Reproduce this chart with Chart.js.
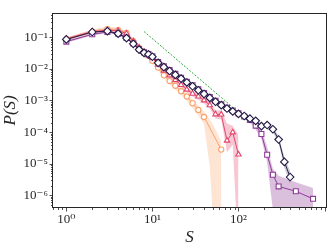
<!DOCTYPE html>
<html>
<head>
<meta charset="utf-8">
<script src="https://cdn.jsdelivr.net/npm/chart.js@4/dist/chart.umd.min.js"></script>
<style>
  html, body { margin: 0; padding: 0; background: #fff; }
  canvas { display: block; }
</style>
</head>
<body>
<canvas id="chart" width="332" height="248"></canvas>
<script>
// axis decades (labelled ticks)
const xDecades = [1, 10, 100, 1000];
const yDecades = [1e-6, 1e-5, 1e-4, 1e-3, 1e-2, 1e-1];

// diamonds (dark)
const diaS = [1, 2, 3, 4, 5, 6, 7, 8, 9, 10, 11.66, 13.59, 15.85, 18.48, 21.54, 25.12, 29.29, 34.15, 39.81, 46.42,
  54.12, 63.1, 73.56, 85.77, 100, 116.6, 135.9, 158.5, 184.8, 215.4, 251.2, 292.9, 341.5, 398.1];
const diaP = [0.0845, 0.145, 0.155, 0.1286, 0.0932, 0.0613, 0.0403, 0.0317, 0.0284, 0.024, 0.0154, 0.0113, 0.0085, 0.0064,
  0.0049, 0.0037, 0.0028, 0.0021, 0.0016, 0.0012, 0.00091, 0.00071, 0.000555, 0.00045, 0.000378, 0.000322, 0.000266,
  0.000227, 0.000155, 0.000167, 0.000123, 5.83e-5, 1.14e-5, 3.81e-6];
const diaLo = [0.080, 0.138, 0.148, 0.122, 0.088, 0.058, 0.038, 0.030, 0.027, 0.0227, 0.0146, 0.0106, 0.0080, 0.0060,
  0.0046, 0.0034, 0.0026, 0.00197, 0.00149, 0.00112, 0.00084, 0.00066, 0.00051, 0.00041, 0.00034, 0.00029, 0.00024,
  0.0002, 0.00013, 0.00014, 0.0001, 4.5e-5, 7.5e-6, 2.2e-6];
const diaHi = [0.089, 0.152, 0.163, 0.135, 0.098, 0.065, 0.0425, 0.0335, 0.030, 0.0253, 0.0163, 0.0119, 0.0090, 0.0068,
  0.0051, 0.0039, 0.0029, 0.00223, 0.00169, 0.00128, 0.00097, 0.00076, 0.0006, 0.00049, 0.00041, 0.00035, 0.00029,
  0.00026, 0.00018, 0.00019, 0.000145, 7.5e-5, 1.6e-5, 6e-6];

// squares (purple)
const sqS = [1, 2, 3, 4, 5, 6, 7, 8, 9, 10, 11.66, 13.59, 15.85, 18.48, 21.54, 25.12, 29.29, 34.15, 39.81, 46.42,
  54.12, 63.1, 73.56, 85.77, 100, 116.6, 135.9, 158.5, 184.8, 215.4, 251.2, 292.9, 464.2, 735.6];
const sqP = [0.072, 0.123, 0.145, 0.129, 0.094, 0.063, 0.042, 0.033, 0.029, 0.0248, 0.0165, 0.0121, 0.0091, 0.0069,
  0.0052, 0.0039, 0.0030, 0.00225, 0.0017, 0.00128, 0.00097, 0.00076, 0.00059, 0.00048, 0.00039, 0.00031, 0.00024,
  1.6e-4, 8.7e-5, 1.93e-5, 4.5e-6, 1.92e-6, 1.35e-6, 7.8e-7];
const sqLo = [0.066, 0.113, 0.134, 0.119, 0.087, 0.058, 0.039, 0.030, 0.0265, 0.0226, 0.015, 0.011, 0.0082, 0.0062,
  0.0047, 0.0035, 0.0027, 0.002, 0.00152, 0.00114, 0.00086, 0.00067, 0.00052, 0.00042, 0.00034, 0.00026, 0.0002,
  0.00012, 6e-5, 1.1e-5, 3.5e-7, 1e-8, 1e-8, 1e-8];
const sqHi = [0.078, 0.133, 0.157, 0.14, 0.102, 0.068, 0.046, 0.036, 0.0318, 0.0272, 0.0182, 0.0134, 0.0101, 0.0077,
  0.0058, 0.0044, 0.0034, 0.0025, 0.0019, 0.00144, 0.0011, 0.00086, 0.00067, 0.00055, 0.00045, 0.00036, 0.00029,
  0.0002, 0.000125, 3.4e-5, 7e-6, 4.2e-6, 2.6e-6, 1.7e-6];

// triangles (red)
const triS = [1, 2, 3, 4, 5, 6, 7, 8, 9, 10, 11.66, 13.59, 15.85, 18.48, 21.54, 25.12, 29.29, 34.15, 39.81, 46.42,
  54.12, 63.1, 73.56, 85.77, 100];
const triP = [0.088, 0.15, 0.165, 0.16, 0.13, 0.075, 0.047, 0.034, 0.027, 0.0219, 0.0134, 0.0088, 0.0062, 0.0044,
  0.0031, 0.0022, 0.00164, 0.00133, 0.00101, 0.00071, 0.000365, 0.00036, 5.4e-5, 9.8e-5, 1.96e-5];
const triLo = [0.08, 0.135, 0.148, 0.14, 0.11, 0.063, 0.04, 0.029, 0.023, 0.018, 0.011, 0.0072, 0.0051, 0.0036,
  0.0025, 0.0018, 0.00132, 0.00106, 0.0008, 0.00055, 0.00027, 0.00025, 2.3e-5, 4e-5, 1e-8];
const triHi = [0.097, 0.168, 0.19, 0.185, 0.15, 0.088, 0.055, 0.04, 0.032, 0.026, 0.016, 0.0106, 0.0075, 0.0053,
  0.0038, 0.0027, 0.002, 0.00163, 0.00125, 0.0009, 0.00049, 0.00048, 0.000188, 0.00016, 8e-5];

// circles (orange)
const circS = [1, 2, 3, 4, 5, 6, 7, 8, 9, 10, 11.66, 13.59, 15.85, 18.48, 21.54, 25.12, 29.29, 34.15, 39.81, 63.1];
const circP = [0.088, 0.15, 0.18, 0.165, 0.135, 0.075, 0.046, 0.033, 0.026, 0.0178, 0.0109, 0.0062, 0.0041, 0.0029,
  0.00196, 0.00133, 0.00082, 0.0005, 0.0003, 2.8e-5];
const circBandS = [1, 2, 3, 4, 5, 6, 7, 8, 9, 10, 11.66, 13.59, 15.85, 18.48, 21.54, 25.12, 29.29, 34.15, 39.81, 46.42,
  54.12, 63.1];
const circLo = [0.078, 0.13, 0.155, 0.14, 0.11, 0.062, 0.038, 0.027, 0.021, 0.014, 0.0086, 0.0049, 0.0032, 0.0022,
  0.0015, 0.00098, 0.00058, 0.00033, 0.00018, 8e-6, 1e-8, 1e-8];
const circHi = [0.098, 0.175, 0.215, 0.2, 0.16, 0.09, 0.055, 0.04, 0.032, 0.022, 0.0135, 0.0078, 0.0052, 0.0037,
  0.0025, 0.0017, 0.0011, 0.00068, 0.00045, 0.00025, 0.00012, 5e-5];

// reference slope line
const guideS = [8, 85];
const guideP = [0.15, 6.2e-4];

const FONT = "'Liberation Serif', 'DejaVu Serif', serif";
const INK = '#262626';

const pts = (S, P) => S.map((s, i) => ({ x: s, y: P[i] }));

function series(S, P, color, style, radius) {
  return {
    data: pts(S, P), borderColor: color, borderWidth: 1, tension: 0, fill: false,
    pointStyle: style, pointRadius: radius, pointBorderColor: color, pointBorderWidth: 1.1,
    pointBackgroundColor: '#fff'
  };
}

function band(S, lo, hi, color) {
  return [
    { data: pts(S, lo), borderWidth: 0, borderColor: 'transparent', pointRadius: 0, fill: false },
    { data: pts(S, hi), borderWidth: 0, borderColor: 'transparent', pointRadius: 0, fill: '-1', backgroundColor: color }
  ];
}

const SUP = { '0': '⁰', '1': '¹', '2': '²', '3': '³', '4': '⁴', '5': '⁵', '6': '⁶', '7': '⁷', '8': '⁸', '9': '⁹', '-': '⁻' };
const isDecade = v => Math.abs(Math.log10(v) - Math.round(Math.log10(v))) < 1e-9;
const powLabel = v => '10' + String(Math.round(Math.log10(v))).split('').map(c => SUP[c]).join('');

function logTicks(scale, decades) {
  const out = [];
  [decades[0] / 10, ...decades].forEach(d => {
    for (let m = 1; m <= 9; m++) {
      const v = d * m;
      if (v >= scale.min && v <= scale.max) out.push({ value: v, major: m === 1 });
    }
  });
  scale.ticks = out;
}

// frame and outward tick marks
const frame = {
  id: 'frame',
  afterDraw(chart) {
    const { ctx, chartArea: a, scales } = chart;
    ctx.save();
    ctx.strokeStyle = INK;
    ctx.lineWidth = 1;
    ctx.strokeRect(Math.round(a.left) - 0.5, Math.round(a.top) + 0.5,
      Math.round(a.right - a.left) + 1, Math.round(a.bottom - a.top) - 1);
    ctx.lineWidth = 0.8;
    ctx.beginPath();
    scales.x.ticks.forEach(t => {
      const px = Math.round(scales.x.getPixelForValue(t.value)) + 0.5;
      if (px < a.left || px > a.right) return;
      const len = isDecade(t.value) ? 3.5 : 2;
      ctx.moveTo(px, a.bottom); ctx.lineTo(px, a.bottom + len);
    });
    scales.y.ticks.forEach(t => {
      const py = Math.round(scales.y.getPixelForValue(t.value)) + 0.5;
      if (py < a.top || py > a.bottom) return;
      const len = isDecade(t.value) ? 3.5 : 2;
      ctx.moveTo(a.left, py); ctx.lineTo(a.left - len, py);
    });
    ctx.stroke();
    ctx.restore();
  }
};

const datasets = [
  series(diaS, diaP, '#231a45', 'rectRot', 3.8),
  series(sqS, sqP, '#8e3a98', 'rect', 3.5),
  series(triS, triP, '#e3476c', 'triangle', 3.1),
  series(circS, circP, '#f9a36e', 'circle', 2.6),
  { data: pts(guideS, guideP), borderColor: '#2ea83c', borderWidth: 1, borderDash: [2, 1.5], pointRadius: 0, fill: false },
  ...band(diaS, diaLo, diaHi, 'rgba(35,26,69,0.22)'),
  ...band(sqS, sqLo, sqHi, 'rgba(142,58,152,0.32)'),
  ...band(triS, triLo, triHi, 'rgba(227,71,108,0.3)'),
  ...band(circBandS, circLo, circHi, 'rgba(250,165,110,0.3)')
];

new Chart(document.getElementById('chart').getContext('2d'), {
  type: 'line',
  data: { datasets },
  options: {
    responsive: false,
    animation: false,
    layout: { padding: { left: 0, right: 6, top: 5, bottom: 0 } },
    plugins: { legend: { display: false }, tooltip: { enabled: false } },
    scales: {
      x: {
        type: 'logarithmic', min: 0.7, max: 1040,
        grid: { display: false, drawTicks: false },
        border: { display: false },
        afterBuildTicks: s => logTicks(s, xDecades),
        afterFit: s => { s.height = 40; },
        ticks: {
          autoSkip: false, maxRotation: 0, minRotation: 0, padding: 4,
          color: INK, font: { family: FONT, size: 13 },
          callback: v => (isDecade(v) && xDecades.includes(Math.round(v)) && v <= 100) ? powLabel(v) : ''
        },
        title: {
          display: true, text: 'S', color: INK,
          font: { family: FONT, size: 17, style: 'italic' },
          padding: { top: 4, bottom: 0 }
        }
      },
      y: {
        type: 'logarithmic', min: 4e-7, max: 0.587,
        grid: { display: false, drawTicks: false },
        border: { display: false },
        afterBuildTicks: s => logTicks(s, yDecades),
        afterFit: s => { s.width = 53; },
        ticks: {
          autoSkip: false, padding: 5,
          color: INK, font: { family: FONT, size: 13 },
          callback: v => (isDecade(v) && v >= 1e-6 && v <= 0.1) ? powLabel(v) : ''
        },
        title: {
          display: true, text: 'P(S)', color: INK,
          font: { family: FONT, size: 17, style: 'italic' },
          padding: { top: 0, bottom: 0 }
        }
      }
    }
  },
  plugins: [frame]
});
</script>
</body>
</html>
